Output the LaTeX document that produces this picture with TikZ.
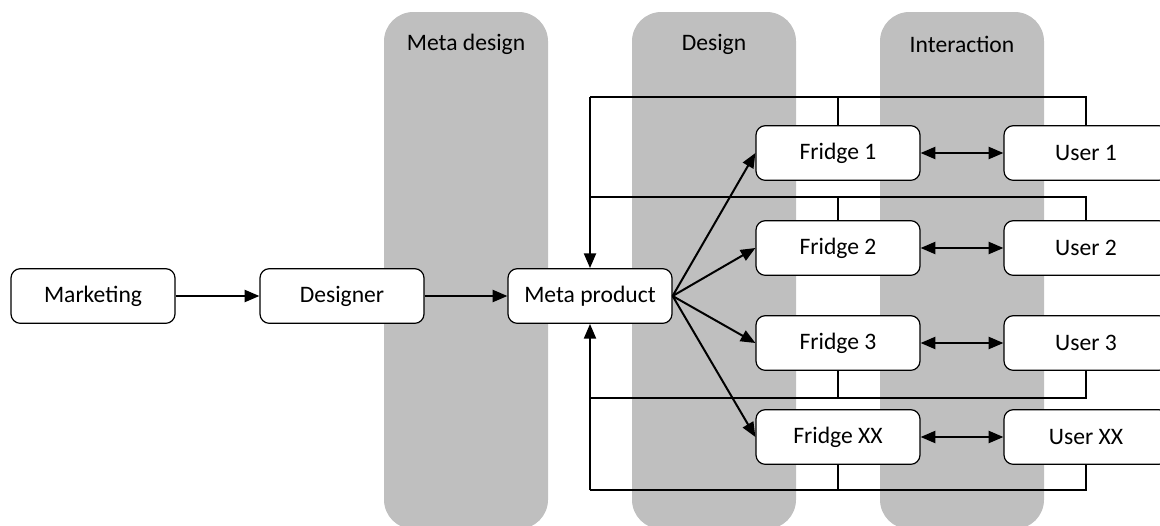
\documentclass[tikz,border=0pt]{standalone}
\usepackage{fontspec}
\setmainfont{Carlito}
\usetikzlibrary{arrows.meta}
\begin{document}
\begin{tikzpicture}[x=0.75pt,y=-0.75pt,
		box/.style={draw, line width=0.9pt, fill=white, rounded corners=7pt,
			minimum width=123pt, minimum height=41pt, inner sep=0pt,
			font=\fontsize{17.7pt}{21pt}\selectfont},
		band/.style={fill=black!25, rounded corners=22pt},
		bandlabel/.style={font=\fontsize{17.7pt}{21pt}\selectfont},
		flow/.style={line width=1.5pt, -{Triangle[length=11pt,width=9pt]}},
		both/.style={line width=1.5pt, {Triangle[length=11pt,width=9pt]}-{Triangle[length=11pt,width=9pt]}},
		fbline/.style={line width=1.5pt},
		branch/.style={line width=0.8pt}]
	\useasboundingbox (0,0) rectangle (1160,525);
	\clip (0,0) rectangle (1160,525);
	%
	\fill[band] (384,12) rectangle (548,529);
	\fill[band] (632,12) rectangle (796,529);
	\fill[band] (880,12) rectangle (1044,529);
	\node[bandlabel] (lblmeta) at (466,44) {Meta design};
	\node[bandlabel] (lbldesign) at (714,44) {Design};
	\node[bandlabel] (lblinter) at (962,44) {Interaction};
	%
	\coordinate (fb1) at (590,97);
	\coordinate (fb2) at (590,197);
	\coordinate (fb3) at (590,398);
	\coordinate (fb4) at (590,490);
	%
	\node[box] (mkt) at (93,296) {Marketing};
	\node[box] (dsg) at (342,296) {Designer};
	\node[box] (meta) at (590,296) {Meta product};
	\node[box] (f1) at (838,153) {Fridge 1};
	\node[box] (f2) at (838,248) {Fridge 2};
	\node[box] (f3) at (838,343) {Fridge 3};
	\node[box] (f4) at (838,437) {Fridge XX};
	\node[box] (u1) at (1086,153) {User 1};
	\node[box] (u2) at (1086,248) {User 2};
	\node[box] (u3) at (1086,343) {User 3};
	\node[box] (u4) at (1086,437) {User XX};
	%
	\draw[flow] (mkt) -- (dsg);
	\draw[flow] (dsg) -- (meta);
	\draw[flow] (meta.east) -- (f1.west);
	\draw[flow] (meta.east) -- (f2.west);
	\draw[flow] (meta.east) -- (f3.west);
	\draw[flow] (meta.east) -- (f4.west);
	\draw[both] (f1) -- (u1);
	\draw[both] (f2) -- (u2);
	\draw[both] (f3) -- (u3);
	\draw[both] (f4) -- (u4);
	%
	\draw[fbline] (u1.north) |- (fb1);
	\draw[fbline] (u2.north) |- (fb2);
	\draw[fbline] (u3.south) |- (fb3);
	\draw[fbline] (u4.south) |- (fb4);
	\draw[flow] (fb1) -- (meta.north);
	\draw[flow] (fb4) -- (meta.south);
	\draw[branch] (f1.north) -- (f1.north |- fb1);
	\draw[branch] (f2.north) -- (f2.north |- fb2);
	\draw[branch] (f3.south) -- (f3.south |- fb3);
	\draw[branch] (f4.south) -- (f4.south |- fb4);
\end{tikzpicture}
\end{document}
